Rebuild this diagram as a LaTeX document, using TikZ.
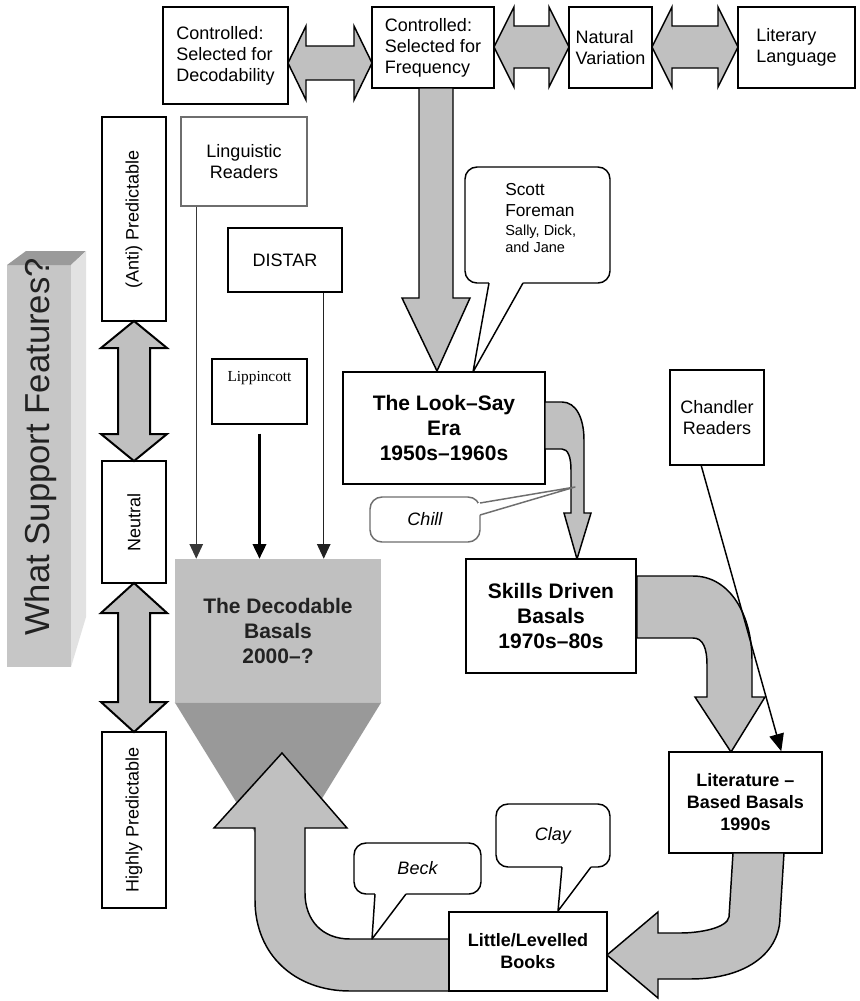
\documentclass[tikz,border=0pt]{standalone}
\usepackage{fontspec}
\setmainfont{Liberation Sans}
\newfontfamily\serifl{Liberation Serif}
\usetikzlibrary{arrows.meta,calc}
\definecolor{fatgray}{HTML}{C0C0C0}
\definecolor{funnelgray}{HTML}{999999}
\definecolor{blockfront}{HTML}{C6C6C6}
\definecolor{blockside}{HTML}{E2E2E2}
\definecolor{blocktop}{HTML}{9A9A9A}
\definecolor{textdark}{HTML}{222222}
\definecolor{softline}{HTML}{6E6E6E}
\newcommand\hdarrow[6]{\draw[fat] (#1,#3) -- ({#1+#6},{#3-#4}) -- ({#1+#6},{#3-#5}) -- ({#2-#6},{#3-#5}) -- ({#2-#6},{#3-#4}) -- (#2,#3) -- ({#2-#6},{#3+#4}) -- ({#2-#6},{#3+#5}) -- ({#1+#6},{#3+#5}) -- ({#1+#6},{#3+#4}) -- cycle;}
\newcommand\vdarrow[6]{\draw[fat, line width=1.5pt] (#3,#1) -- ({#3+#4},{#1+#6}) -- ({#3+#5},{#1+#6}) -- ({#3+#5},{#2-#6}) -- ({#3+#4},{#2-#6}) -- (#3,#2) -- ({#3-#4},{#2-#6}) -- ({#3-#5},{#2-#6}) -- ({#3-#5},{#1+#6}) -- ({#3-#4},{#1+#6}) -- cycle;}
\begin{document}
\begin{tikzpicture}[x=0.75pt,y=-0.75pt,
  wh/.style 2 args={minimum width=#1*0.75pt, minimum height=#2*0.75pt},
  box/.style={draw=black, line width=1.1pt, fill=white, inner sep=0pt, text=black,
    font=\fontsize{13.5}{15.75}\selectfont, align=center},
  boldbig/.style={font=\fontsize{15.75}{18.75}\selectfont\bfseries},
  boldsmall/.style={font=\fontsize{13.5}{16.5}\selectfont\bfseries},
  fat/.style={fill=fatgray, draw=black, line width=1.1pt, line join=miter},
  thinarr/.style={line width=1.1pt, -{Triangle[length=11pt,width=10pt]}},
  callbody/.style={draw=black, line width=1.1pt, fill=white, rounded corners=9pt,
    inner sep=0pt, font=\fontsize{13.5}{15.75}\selectfont\itshape},
  tail/.style={line width=1.1pt, line join=round},
  vlabel/.style={box, rotate=90, minimum height=64*0.75pt}
]
\useasboundingbox (0,0) rectangle (860,1001);
\fill[white] (0,0) rectangle (860,1001);

% ---- What Support Features? block
\fill[blockfront] (7,265) rectangle (71,667);
\fill[blocktop] (7,265) -- (26,251) -- (86,251) -- (71,265) -- cycle;
\fill[blockside] (71,265) -- (86,251) -- (86,617) -- (71,667) -- cycle;
\node[rotate=90, text=textdark, font=\fontsize{26}{30}\selectfont, inner sep=0pt] (wsf) at (41,447) {What Support Features?};

% ---- top row
\node[box, wh={125}{97}, align=left] (A) at (225.5,55.5) {Controlled:\\Selected for\\Decodability};
\node[box, wh={122}{81}, align=left] (B) at (433,47.5) {Controlled:\\Selected for\\Frequency};
\node[box, wh={83}{81}, align=left] (C) at (610.5,47.5) {Natural\\Variation};
\node[box, wh={117}{81}, align=left] (D) at (796.5,47.5) {Literary\\Language};
\hdarrow{288}{372}{63}{37}{17}{18}
\hdarrow{494}{569}{47}{40}{21}{20}
\hdarrow{652}{738}{47}{40}{21}{20}

% ---- big arrow B -> Look-Say
\draw[fat] (419,88) -- (419,298) -- (402,298) -- (437,371) -- (470,298) -- (453,298) -- (453,88) -- cycle;

% ---- Scott Foreman callout
\node[callbody, wh={145}{116}] (scott) at (537.5,225) {};
\fill[white] (489,280) -- (489,283) -- (473,372) -- (523,283) -- (523,280) -- cycle;
\draw[tail] (489,283) -- (473,372) -- (523,283);
\node[align=left, inner sep=0pt, anchor=north west, font=\fontsize{13}{16}\selectfont] (scotttext) at (505,183)
  {Scott\\Foreman\\[-2pt]{\fontsize{10.9}{12.5}\selectfont Sally, Dick,}\\[-3pt]{\fontsize{10.9}{12.5}\selectfont and Jane}};

% ---- left feeder boxes
\node[box, draw=softline, wh={126}{89}] (ling) at (244,161.5) {Linguistic\\Readers};
\node[box, wh={114}{64}] (distar) at (285,260) {DISTAR};
\node[box, wh={95}{65}, font=\serifl\fontsize{11.5}{13}\selectfont, text height=16.5pt, text depth=32.25pt] (lip) at (259.5,391.5) {Lippincott};

% ---- Decodable basals funnel
\node[fill=fatgray, inner sep=0pt, wh={206}{143}, boldbig, text=textdark, align=center] (dec) at (278,630.5) {The Decodable\\Basals\\2000--?};
\fill[funnelgray] (dec.south west) -- (dec.south east) -- (278,870) -- cycle;

\coordinate (l1) at ($(ling.south west)+(16,0)$);
\coordinate (d1) at ($(distar.south east)+(-19,0)$);
\coordinate (p1) at ($(lip.south)+(0,9)$);
\draw[thinarr, draw=textdark!90, fill=textdark!90] (l1) -- (l1 |- dec.north);
\draw[thinarr, draw=textdark, fill=textdark] (d1) -- (d1 |- dec.north);
\draw[thinarr, line width=1.9pt] (p1) -- (p1 |- dec.north);

% ---- U-turn arrow Little -> Decodable
\draw[fat] (449,939) -- (350,939) .. controls (322,939) and (305,920) .. (305,893) -- (305,828) -- (347,828) -- (282,753) -- (214,828) -- (255,828) -- (255,900) .. controls (255,955) and (295,991) .. (350,991) -- (449,991) -- cycle;

% ---- Look-Say
\node[box, wh={202}{112}, boldbig] (looksay) at (444,428) {The Look--Say\\Era\\1950s--1960s};
\draw[fat] (545,402) -- (562,402) .. controls (576,402) and (584,418) .. (584,440) -- (584,513) -- (591,513) -- (577,559) -- (564,513) -- (571,513) -- (571,470) .. controls (571,457) and (568,449) .. (562,449) -- (545,449) -- cycle;

% ---- Chill callout
\node[callbody, draw=softline, wh={110}{45}] (chill) at (425,519.5) {Chill};
\fill[white] (478,503) -- (480,503) -- (575,487) -- (480,515) -- (478,515) -- cycle;
\draw[tail, draw=softline] (480,503) -- (575,487) -- (480,515);

% ---- Skills Driven
\node[box, wh={170}{114}, boldbig] (skills) at (551,616) {Skills Driven\\Basals\\1970s--80s};
\draw[fat] (637,576) -- (693,576) .. controls (730,576) and (752,615) .. (752,660) -- (752,697) -- (765,697) -- (731,752) -- (695,697) -- (707,697) -- (707,665) .. controls (707,648) and (703,638) .. (693,638) -- (637,638) -- cycle;

% ---- Chandler
\node[box, wh={94}{95}] (chand) at (717,417.5) {Chandler\\Readers};

% ---- Literature based
\node[box, wh={153}{101}, boldsmall] (lit) at (745.5,802.5) {Literature --\\Based Basals\\1990s};
\coordinate (c1) at ($(chand.south west)+(32,0)$);
\coordinate (c2) at ($(lit.north west)+(113,0)$);
\draw[line width=1.1pt, -{Triangle[length=13pt,width=11pt]}] (c1) -- (c2);

\draw[fat] (733,853) -- (729,917) .. controls (727,928) and (700,933) .. (680,933) -- (658,933) -- (658,912) -- (607,955) -- (658,998) -- (658,979) -- (690,979) .. controls (750,979) and (780,950) .. (780,917) -- (784,853) -- cycle;

% ---- Little / Levelled
\node[box, wh={158}{79}, boldsmall] (little) at (528,951.5) {Little/Levelled\\Books};

% ---- Beck and Clay callouts
\node[callbody, wh={127}{51}] (beck) at (417.5,868.5) {Beck};
\fill[white] (375,891) -- (375,894) -- (372,939) -- (406,894) -- (406,891) -- cycle;
\draw[tail] (375,894) -- (372,939) -- (406,894);
\node[callbody, wh={114}{63}] (clay) at (553,835.5) {Clay};
\fill[white] (562,864) -- (562,867) -- (558,911) -- (591,867) -- (591,864) -- cycle;
\draw[tail] (562,867) -- (558,911) -- (591,867);

% ---- left predictability column
\node[vlabel, minimum width=204*0.75pt] (anti) at (134,219) {(Anti) Predictable};
\node[vlabel, minimum width=122*0.75pt] (neutral) at (134,522) {Neutral};
\node[vlabel, minimum width=176*0.75pt] (highly) at (134,820) {Highly Predictable};
\vdarrow{321}{461}{134}{33}{16}{27}
\vdarrow{583}{732}{134}{33}{16}{30}
\end{tikzpicture}
\end{document}
